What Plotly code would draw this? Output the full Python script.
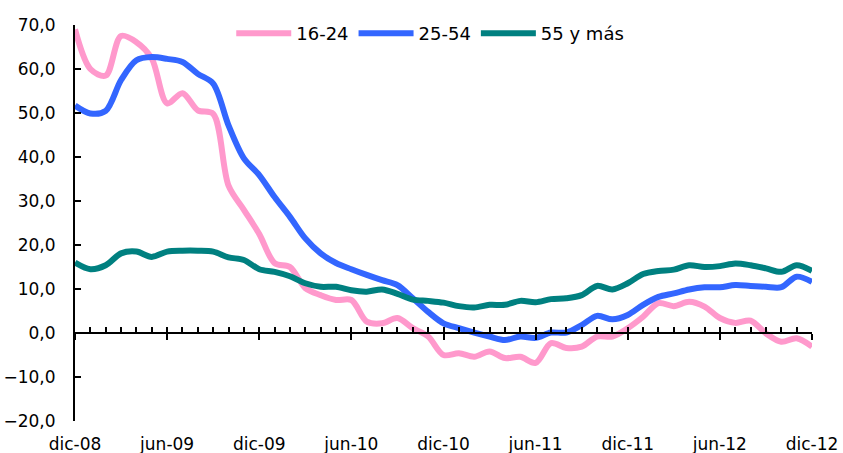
import plotly.graph_objects as go

mes = ["ene", "feb", "mar", "abr", "may", "jun", "jul", "ago", "sep", "oct", "nov", "dic"]
months = ["dic-08"] + [f"{m}-{y:02d}" for y in range(9, 13) for m in mes]

s_16_24 = [69.0, 60.0, 58.5, 67.5, 66.1, 62.4, 52.2, 54.5, 50.6, 49.8, 33.5, 28.0, 22.5,
           15.9, 15.0, 10.2, 8.6, 7.5, 7.5, 2.6, 2.2, 3.4, 1.1, -0.8, -5.0, -4.6, -5.4,
           -4.2, -5.7, -5.4, -6.8, -2.3, -3.4, -3.1, -0.8, -0.8, 1.1, 3.7, 6.8, 6.1, 7.1,
           6.0, 3.4, 2.3, 2.8, -0.1, -2.0, -1.2, -3.1]
s_25_54 = [51.7, 49.9, 50.5, 57.5, 62.0, 62.7, 62.3, 61.6, 58.9, 56.7, 47.2, 39.7, 35.9,
           30.9, 26.4, 21.5, 18.1, 15.9, 14.5, 13.2, 12.0, 10.9, 7.9, 4.8, 2.2, 1.1, 0.1,
           -0.8, -1.6, -0.8, -1.1, 0.1, 0.1, 1.8, 3.9, 3.1, 4.1, 6.4, 8.2, 9.0, 9.9,
           10.4, 10.4, 10.9, 10.7, 10.5, 10.4, 12.8, 11.6]
s_55 = [16.0, 14.5, 15.4, 18.1, 18.5, 17.3, 18.5, 18.7, 18.7, 18.5, 17.2, 16.6, 14.5,
        13.9, 12.9, 11.3, 10.5, 10.5, 9.7, 9.4, 9.9, 8.9, 7.6, 7.3, 6.9, 6.1, 5.8,
        6.4, 6.4, 7.3, 7.0, 7.7, 7.9, 8.6, 10.7, 9.9, 11.3, 13.4, 14.1, 14.4, 15.4,
        15.0, 15.2, 15.8, 15.4, 14.7, 13.9, 15.4, 14.1]

series = [("16-24", s_16_24, "#FF99CC"), ("25-54", s_25_54, "#3366FF"), ("55 y más", s_55, "#008080")]
label_ticks = months[::6]
y_ticks = list(range(-20, 71, 10))

FONT = dict(family="DejaVu Sans, Verdana, sans-serif", size=17, color="#000000")
LFONT = dict(family="DejaVu Sans, Verdana, sans-serif", size=18, color="#000000")

fig = go.Figure()
for name, vals, col in series:
    fig.add_trace(go.Scatter(x=months, y=vals, name=name, mode="lines",
                             line=dict(color=col, width=6, shape="spline", smoothing=0.9)))

zero_pos = (0 - (-20)) / 90.0

fig.update_layout(
    width=843, height=453,
    margin=dict(l=75, r=31, t=25, b=32, autoexpand=False),
    paper_bgcolor="white", plot_bgcolor="white",
    separators=",.",
    font=FONT,
    showlegend=True,
    legend=dict(orientation="h", x=0.212, xanchor="left", y=1.025, yanchor="top",
                bgcolor="rgba(0,0,0,0)", font=LFONT, itemwidth=55, traceorder="normal"),
    xaxis=dict(type="category", range=[0, 48], tickvals=label_ticks, ticktext=label_ticks,
               showline=False, showgrid=False, zeroline=False, ticks="", automargin=False,
               ticklabelstandoff=11, tickfont=FONT),
    xaxis2=dict(overlaying="x", anchor="free", position=zero_pos, range=[0, 48],
                showline=True, linecolor="black", linewidth=2, ticks="inside",
                ticklen=5, tickwidth=1.5, tickcolor="black", dtick=1, tick0=0, automargin=False,
                showticklabels=False, showgrid=False, zeroline=False),
    xaxis3=dict(overlaying="x", anchor="free", position=zero_pos, range=[0, 48],
                showline=False, ticks="outside", ticklen=6, tickwidth=1.5,
                tickcolor="black", dtick=6, tick0=0, automargin=False,
                showticklabels=False, showgrid=False, zeroline=False),
    yaxis=dict(range=[-20, 70], tickvals=y_ticks, tickformat=".1f", automargin=False,
               showline=True, linecolor="black", linewidth=2, ticks="inside",
               ticklen=6, tickwidth=1.5, tickcolor="black", showgrid=False,
               zeroline=False, ticklabelstandoff=14, tickfont=FONT),
)
fig.add_trace(go.Scatter(x=[0, 48], y=[None, None], xaxis="x2", showlegend=False, hoverinfo="skip"))
fig.add_trace(go.Scatter(x=[0, 48], y=[None, None], xaxis="x3", showlegend=False, hoverinfo="skip"))

fig.write_html("out.html", config={"displayModeBar": False},
               post_script="document.body.style.margin='0';document.body.style.overflow='hidden';")
